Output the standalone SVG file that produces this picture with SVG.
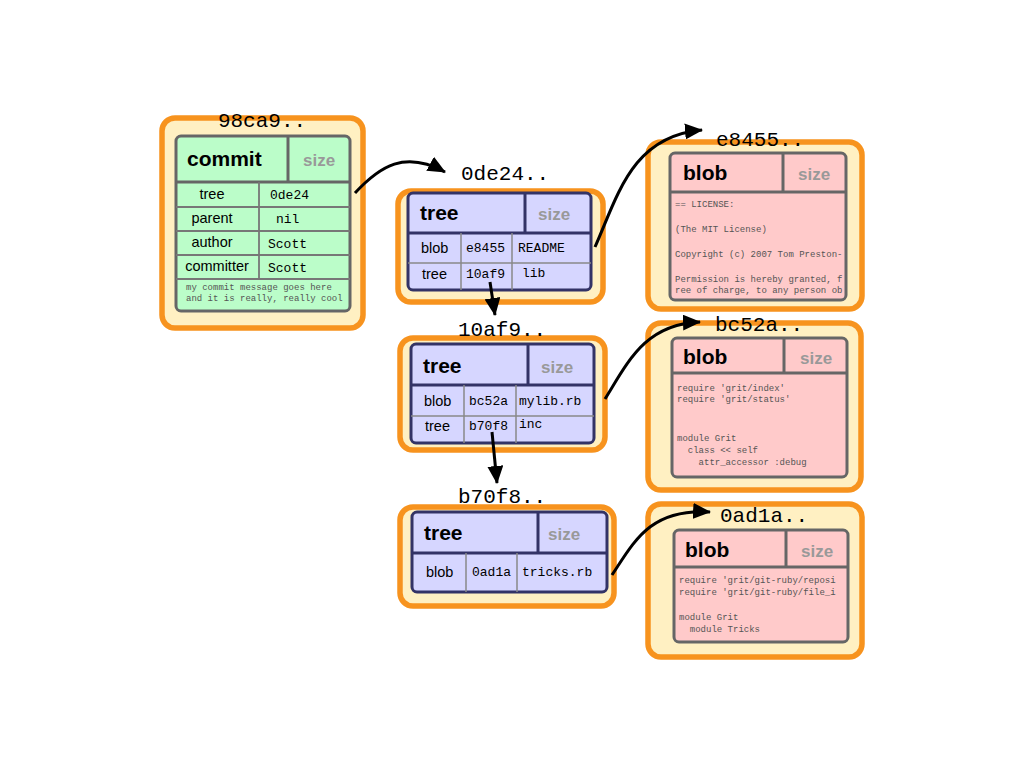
<svg xmlns="http://www.w3.org/2000/svg" width="1024" height="768" viewBox="0 0 1024 768">
<defs>
<style>
.outer{fill:#fff0c2;stroke:#f7931e;stroke-width:5.5}
.cin{fill:#bbfdc9;stroke:#666;stroke-width:3}
.tin{fill:#d6d6ff;stroke:#333366;stroke-width:3}
.bin{fill:#ffcaca;stroke:#666;stroke-width:3}
.gdiv{stroke:#666;stroke-width:3;fill:none}
.ndiv{stroke:#333366;stroke-width:3;fill:none}
.grow{stroke:#777;stroke-width:1.8;fill:none}
.trow{stroke:#888;stroke-width:1.5;fill:none}
.hash{font-family:"Liberation Mono",monospace;font-size:21px;fill:#000}
.hdr{font-family:"Liberation Sans",Arial,sans-serif;font-weight:bold;font-size:21px;fill:#000}
.size{font-family:"Liberation Sans",Arial,sans-serif;font-weight:bold;font-size:17px;fill:#999}
.lbl{font-family:"Liberation Sans",Arial,sans-serif;font-size:14.5px;fill:#000}
.val{font-family:"Liberation Mono",monospace;font-size:13px;fill:#000}
.small{font-family:"Liberation Mono",monospace;font-size:9px;fill:#555}
.conn{stroke:#000;stroke-width:3;fill:none;marker-end:url(#arr)}
</style>
<marker id="arr" markerUnits="userSpaceOnUse" markerWidth="18" markerHeight="16" refX="17" refY="8" orient="auto">
<path d="M0,0 L18,8 L0,16 z" fill="#000"/>
</marker>
</defs>
<rect width="1024" height="768" fill="#fff"/>

<g id="commit-98ca9">
<rect class="outer" x="162" y="118" width="201" height="210" rx="13"/>
<rect class="cin" x="176" y="136" width="174" height="175" rx="5"/>
<line class="gdiv" x1="288" y1="136" x2="288" y2="182"/>
<line class="gdiv" x1="176" y1="182" x2="350" y2="182"/>
<line class="grow" x1="176" y1="207" x2="350" y2="207"/>
<line class="grow" x1="176" y1="231" x2="350" y2="231"/>
<line class="grow" x1="176" y1="255" x2="350" y2="255"/>
<line class="grow" x1="176" y1="279" x2="350" y2="279"/>
<line class="grow" x1="259" y1="182" x2="259" y2="279"/>
<text class="hash" x="262" y="127" text-anchor="middle">98ca9..</text>
<text class="hdr" x="187" y="166">commit</text>
<text class="size" x="303" y="166">size</text>
<text class="lbl" x="212" y="199" text-anchor="middle">tree</text>
<text class="lbl" x="212" y="223" text-anchor="middle">parent</text>
<text class="lbl" x="212" y="247" text-anchor="middle">author</text>
<text class="lbl" x="217" y="271" text-anchor="middle">committer</text>
<text class="val" x="270" y="199">0de24</text>
<text class="val" x="276" y="223">nil</text>
<text class="val" x="268" y="248">Scott</text>
<text class="val" x="268" y="272">Scott</text>
<text class="small" x="186" y="290">my commit message goes here</text>
<text class="small" x="186" y="301">and it is really, really cool</text>
</g>

<g id="tree-0de24">
<rect class="outer" x="398" y="191" width="205" height="111" rx="13"/>
<rect class="tin" x="408" y="193" width="183" height="97" rx="5"/>
<line class="ndiv" x1="525" y1="193" x2="525" y2="233"/>
<line class="ndiv" x1="408" y1="233" x2="591" y2="233"/>
<line class="trow" x1="408" y1="263" x2="591" y2="263"/>
<line class="trow" x1="461" y1="233" x2="461" y2="290"/>
<line class="trow" x1="512" y1="233" x2="512" y2="290"/>
<text class="hash" x="461" y="180">0de24..</text>
<text class="hdr" x="420" y="220">tree</text>
<text class="size" x="538" y="220">size</text>
<text class="lbl" x="421" y="253">blob</text>
<text class="val" x="466" y="252">e8455</text>
<text class="val" x="518" y="252">README</text>
<text class="lbl" x="422" y="279">tree</text>
<text class="val" x="466" y="278">10af9</text>
<text class="val" x="522" y="277">lib</text>
</g>

<g id="tree-10af9">
<rect class="outer" x="400" y="338" width="205" height="112" rx="13"/>
<rect class="tin" x="411" y="344" width="183" height="99" rx="5"/>
<line class="ndiv" x1="528" y1="344" x2="528" y2="385"/>
<line class="ndiv" x1="411" y1="385" x2="594" y2="385"/>
<line class="trow" x1="411" y1="416" x2="594" y2="416"/>
<line class="trow" x1="464" y1="385" x2="464" y2="443"/>
<line class="trow" x1="516" y1="385" x2="516" y2="443"/>
<text class="hash" x="458" y="336">10af9..</text>
<text class="hdr" x="423" y="373">tree</text>
<text class="size" x="541" y="373">size</text>
<text class="lbl" x="424" y="406">blob</text>
<text class="val" x="469" y="405">bc52a</text>
<text class="val" x="519" y="405">mylib.rb</text>
<text class="lbl" x="425" y="431">tree</text>
<text class="val" x="469" y="430">b70f8</text>
<text class="val" x="519" y="428">inc</text>
</g>

<g id="tree-b70f8">
<rect class="outer" x="400" y="507" width="214" height="99" rx="13"/>
<rect class="tin" x="412" y="512" width="195" height="80" rx="5"/>
<line class="ndiv" x1="538" y1="512" x2="538" y2="553"/>
<line class="ndiv" x1="412" y1="553" x2="607" y2="553"/>
<line class="trow" x1="466" y1="553" x2="466" y2="592"/>
<line class="trow" x1="517" y1="553" x2="517" y2="592"/>
<text class="hash" x="458" y="503">b70f8..</text>
<text class="hdr" x="424" y="540">tree</text>
<text class="size" x="548" y="540">size</text>
<text class="lbl" x="426" y="577">blob</text>
<text class="val" x="472" y="576">0ad1a</text>
<text class="val" x="522" y="576">tricks.rb</text>
</g>

<g id="blob-e8455">
<rect class="outer" x="648" y="142" width="214" height="167" rx="13"/>
<rect class="bin" x="670" y="153" width="176" height="147" rx="5"/>
<line class="gdiv" x1="783" y1="153" x2="783" y2="192"/>
<line class="gdiv" x1="670" y1="192" x2="846" y2="192"/>
<text class="hash" x="716" y="146">e8455..</text>
<text class="hdr" x="683" y="180">blob</text>
<text class="size" x="798" y="180">size</text>
<text class="small" x="675" y="207">== LICENSE:</text>
<text class="small" x="675" y="232">(The MIT License)</text>
<text class="small" x="675" y="257">Copyright (c) 2007 Tom Preston-</text>
<text class="small" x="675" y="282">Permission is hereby granted, f</text>
<text class="small" x="675" y="293">ree of charge, to any person ob</text>
</g>

<g id="blob-bc52a">
<rect class="outer" x="648" y="323" width="213" height="167" rx="13"/>
<rect class="bin" x="672" y="338" width="175" height="139" rx="5"/>
<line class="gdiv" x1="784" y1="338" x2="784" y2="373"/>
<line class="gdiv" x1="672" y1="373" x2="847" y2="373"/>
<text class="hash" x="715" y="331">bc52a..</text>
<text class="hdr" x="683" y="364">blob</text>
<text class="size" x="800" y="364">size</text>
<text class="small" x="677" y="391">require 'grit/index'</text>
<text class="small" x="677" y="402">require 'grit/status'</text>
<text class="small" x="677" y="441">module Grit</text>
<text class="small" x="677" y="453" xml:space="preserve">  class &lt;&lt; self</text>
<text class="small" x="677" y="465" xml:space="preserve">    attr_accessor :debug</text>
</g>

<g id="blob-0ad1a">
<rect class="outer" x="648" y="504" width="214" height="153" rx="13"/>
<rect class="bin" x="674" y="530" width="174" height="112" rx="5"/>
<line class="gdiv" x1="786" y1="530" x2="786" y2="567"/>
<line class="gdiv" x1="674" y1="567" x2="848" y2="567"/>
<text class="hash" x="720" y="522">0ad1a..</text>
<text class="hdr" x="685" y="557">blob</text>
<text class="size" x="801" y="557">size</text>
<text class="small" x="679" y="583">require 'grit/git-ruby/reposi</text>
<text class="small" x="679" y="595">require 'grit/git-ruby/file_i</text>
<text class="small" x="679" y="620">module Grit</text>
<text class="small" x="679" y="632" xml:space="preserve">  module Tricks</text>
</g>

<g id="connectors">
<path class="conn" d="M355,193 C380,166 405,150 445,172"/>
<path class="conn" d="M490,282 L495,315"/>
<path class="conn" d="M492,432 L497,483"/>
<path class="conn" d="M595,247 C618,195 632,136 702,130"/>
<path class="conn" d="M605,399 C628,362 645,324 700,322"/>
<path class="conn" d="M612,575 C634,542 650,508 710,512"/>
</g>
</svg>
